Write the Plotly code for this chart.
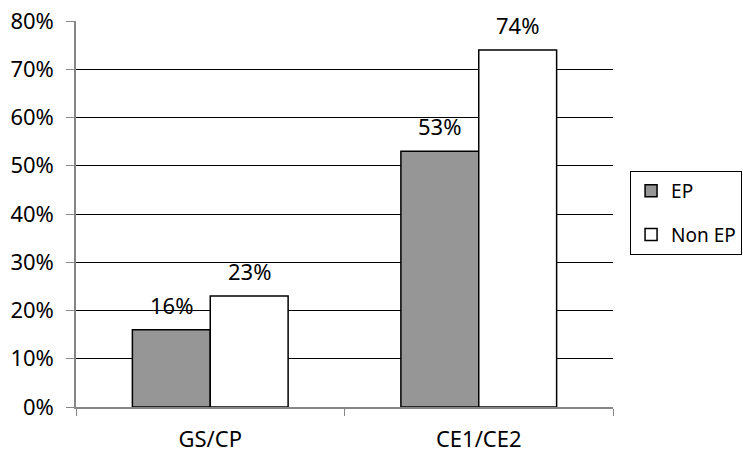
import plotly.graph_objects as go

categories = ["GS/CP", "CE1/CE2"]
ep_values = [0.16, 0.53]
non_ep_values = [0.23, 0.74]
series_names = ["EP", "Non EP"]
tick_vals = [0, 0.1, 0.2, 0.3, 0.4, 0.5, 0.6, 0.7, 0.8]
tick_text = ["0%", "10%", "20%", "30%", "40%", "50%", "60%", "70%", "80%"]

FONT = "Noto Sans"
FS = 22
fig = go.Figure()
fig.add_trace(go.Bar(x=categories, y=ep_values, name=series_names[0],
                     marker=dict(color="#969696", line=dict(color="black", width=1.5)),
                     legendgroup="a"))
fig.add_trace(go.Bar(x=categories, y=non_ep_values, name=series_names[1],
                     marker=dict(color="white", line=dict(color="black", width=1.5)),
                     legendgroup="b"))

for vals, xs in ((ep_values, -39), (non_ep_values, 39)):
    for c, v in zip(categories, vals):
        fig.add_annotation(x=c, y=v, text=f"{round(v*100)}%", showarrow=False,
                           xshift=xs, yshift=25, yanchor="middle",
                           font=dict(family=FONT, size=FS, color="black"))

fig.update_layout(
    width=743, height=458,
    margin=dict(l=76, r=130, t=21, b=51, autoexpand=False),
    plot_bgcolor="white", paper_bgcolor="white",
    barmode="group", bargap=0.42, bargroupgap=0,
    font=dict(family=FONT, size=FS, color="black"),
    legend=dict(xref="container", yref="container",
                x=0.848, xanchor="left", y=0.535, yanchor="middle",
                bgcolor="white", bordercolor="black", borderwidth=1,
                font=dict(family=FONT, size=19), tracegroupgap=16,
                traceorder="grouped", itemwidth=30),
    showlegend=True,
)
fig.update_yaxes(range=[0, 0.8], tickvals=tick_vals, ticktext=tick_text,
                 showgrid=True, gridcolor="black", gridwidth=1,
                 showline=True, linecolor="#868686", linewidth=1.5,
                 ticks="outside", ticklen=8, tickcolor="#868686",
                 ticklabelstandoff=8, zeroline=False, automargin=False)
fig.update_xaxes(showline=True, linecolor="#868686", linewidth=1.5,
                 ticks="outside", ticklen=7, tickcolor="#868686",
                 tickson="boundaries", ticklabelstandoff=12, automargin=False)

fig.write_html("out.html", config={"displayModeBar": False},
               post_script="document.body.style.margin='0';document.body.style.overflow='hidden';")
